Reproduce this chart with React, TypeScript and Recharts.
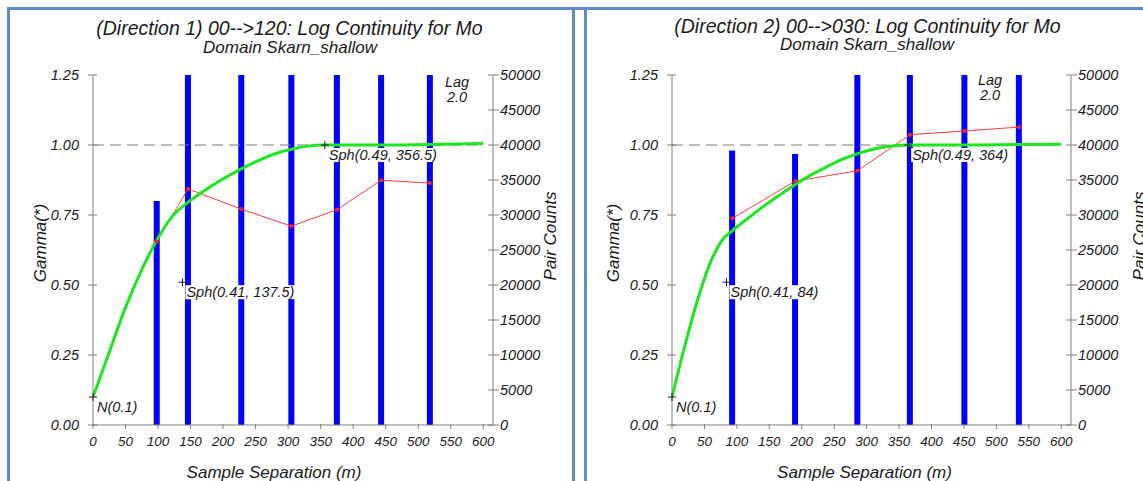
import { ComposedChart, Bar, Line, XAxis, YAxis, ReferenceLine, ReferenceDot } from 'recharts';

// Direction 1 (00-->120)
const LAG_1 = [0, 25, 50, 75, 98, 122, 146, 170, 195, 228, 250, 275, 305, 330, 356.5, 375, 443, 518, 600];
const PAIRS_1 = [null, null, null, null, 32000, null, 56000, null, null, 61000, null, null, 60000, null, null, 57000, 55000, 53000, null];
const GAMMA_1 = [null, null, null, null, 0.655, null, 0.843, null, null, 0.771, null, null, 0.71, null, null, 0.769, 0.874, 0.864, null];
const MODEL_1 = [0.1, 0.26, 0.42, 0.555, 0.66, 0.745, 0.795, 0.835, 0.872, 0.915, 0.94, 0.965, 0.985, 0.996, 1.0, 1.0, 1.0, 1.002, 1.005];
const MARK_H_1 = [0, 137.5, 356.5];
const MARK_G_1 = [0.1, 0.51, 1.0];
const MARK_TXT_1 = ['N(0.1)', 'Sph(0.41, 137.5)', 'Sph(0.49, 356.5)'];

// Direction 2 (00-->030)
const LAG_2 = [0, 20, 40, 60, 80, 93, 115, 140, 165, 190, 215, 240, 265, 286, 310, 335, 367, 451, 535, 600];
const PAIRS_2 = [null, null, null, null, null, 39200, null, null, null, 38700, null, null, null, 58000, null, null, 60000, 56000, 59000, null];
const GAMMA_2 = [null, null, null, null, null, 0.738, null, null, null, 0.871, null, null, null, 0.908, null, null, 1.037, 1.05, 1.064, null];
const MODEL_2 = [0.1, 0.284, 0.451, 0.585, 0.668, 0.694, 0.7345, 0.779, 0.82, 0.859, 0.894, 0.924, 0.951, 0.969, 0.985, 0.9955, 1.0, 1.0, 1.002, 1.003];
const MARK_H_2 = [0, 84, 364];
const MARK_G_2 = [0.1, 0.51, 1.0];
const MARK_TXT_2 = ['N(0.1)', 'Sph(0.41, 84)', 'Sph(0.49, 364)'];

const X_TICKS = [0, 50, 100, 150, 200, 250, 300, 350, 400, 450, 500, 550, 600];
const G_TICKS = [0, 0.25, 0.5, 0.75, 1, 1.25];
const P_TICKS = [0, 5000, 10000, 15000, 20000, 25000, 30000, 35000, 40000, 45000, 50000];

const FONT = '"Liberation Sans", Arial, sans-serif';
const AXIS = '#808080';
const INK = '#1a1a1a';

function XTick(props: any) {
  const { x, y, payload } = props;
  return (
    <g>
      <line x1={x} x2={x} y1={y - 1} y2={y + 4} stroke={AXIS} />
      <text x={x} y={y + 21} textAnchor="middle" fontSize={13.5} fontStyle="italic" fill={INK} fontFamily={FONT}>{payload.value}</text>
    </g>
  );
}

function LeftTick(props: any) {
  const { x, y, payload } = props;
  return (
    <g>
      <line x1={x - 5} x2={x + 4} y1={y} y2={y} stroke={AXIS} />
      <text x={x - 14} y={y + 5} textAnchor="end" fontSize={14.5} fontStyle="italic" fill={INK} fontFamily={FONT}>{Number(payload.value).toFixed(2)}</text>
    </g>
  );
}

function RightTick(props: any) {
  const { x, y, payload } = props;
  return (
    <g>
      <line x1={x - 5} x2={x + 6} y1={y} y2={y} stroke={AXIS} />
      <text x={x + 7} y={y + 5} textAnchor="start" fontSize={14.5} fontStyle="italic" fill={INK} fontFamily={FONT}>{payload.value}</text>
    </g>
  );
}

function markShape(text: string) {
  return (p: any) => {
    const w = text.length * 6.9 + 3;
    return (
      <g>
        <rect x={p.cx + 3} y={p.cy + 3} width={w} height={14} fill="#fff" />
        <line x1={p.cx - 4} x2={p.cx + 4} y1={p.cy} y2={p.cy} stroke={INK} />
        <line x1={p.cx} x2={p.cx} y1={p.cy - 4} y2={p.cy + 4} stroke={INK} />
        <text x={p.cx + 4} y={p.cy + 15} fontSize={14.5} fontStyle="italic" fill={INK} fontFamily={FONT}>{text}</text>
      </g>
    );
  };
}

function Txt({ x, y, size, rot, children }: { x: number; y: number; size: number; rot?: boolean; children: any }) {
  return (
    <div style={{
      position: 'absolute', left: x - 250, top: y - size, width: 500, height: size * 2,
      lineHeight: size * 2 + 'px', textAlign: 'center', fontSize: size, fontStyle: 'italic',
      fontFamily: FONT, color: INK, whiteSpace: 'nowrap',
      transform: rot ? 'rotate(-90deg)' : undefined,
    }}>{children}</div>
  );
}

interface PanelProps {
  left: number; width: number; mLeft: number; mRight: number;
  lag: number[]; pairs: (number | null)[]; gamma: (number | null)[]; model: number[];
  markH: number[]; markG: number[]; markTxt: string[];
}

function Panel(p: PanelProps) {
  const data = p.lag.map((h, i) => ({ h, pairs: p.pairs[i], gamma: p.gamma[i], model: p.model[i] }));
  return (
    <div style={{ position: 'absolute', left: p.left, top: 0 }}>
      <ComposedChart width={p.width} height={481} data={data}
        margin={{ top: 75, right: p.mRight, bottom: 26, left: p.mLeft }}>
        <XAxis dataKey="h" type="number" domain={[0, 615]} ticks={X_TICKS} interval={0}
          height={30} tickSize={0} tickMargin={0} tickLine={false} tick={XTick}
          axisLine={{ stroke: AXIS }} allowDataOverflow />
        <YAxis yAxisId="g" orientation="left" domain={[0, 1.25]} ticks={G_TICKS} interval={0}
          width={60} tickSize={0} tickMargin={0} tickLine={false} tick={LeftTick}
          axisLine={{ stroke: AXIS }} allowDataOverflow />
        <YAxis yAxisId="p" orientation="right" domain={[0, 50000]} ticks={P_TICKS} interval={0}
          width={60} tickSize={0} tickMargin={0} tickLine={false} tick={RightTick}
          axisLine={{ stroke: AXIS }} allowDataOverflow />
        <ReferenceLine yAxisId="g" segment={[{ x: 0, y: 1 }, { x: 600, y: 1 }]}
          stroke="#7a7a7a" strokeDasharray="11 6" />
        <Bar yAxisId="p" dataKey="pairs" fill="#0000ff" barSize={6} isAnimationActive={false} />
        <Line yAxisId="g" dataKey="gamma" stroke="#ff3b3b" strokeWidth={1} connectNulls
          dot={{ r: 2, fill: '#ff2020', stroke: 'none' }} isAnimationActive={false} />
        <Line yAxisId="g" dataKey="model" type="monotone" stroke="#1ee61e" strokeWidth={3} connectNulls
          dot={false} isAnimationActive={false} />
        {p.markH.map((h, i) => (
          <ReferenceDot key={i} yAxisId="g" x={h} y={p.markG[i]} shape={markShape(p.markTxt[i])} />
        ))}
      </ComposedChart>
    </div>
  );
}

export default function App() {
  const border = '#5f8bc8';
  return (
    <div style={{ position: 'absolute', left: 0, top: 0, width: 1143, height: 481, overflow: 'hidden', background: '#fff' }}>
      <div style={{ position: 'absolute', left: 7, top: 7, width: 1136, height: 2.5, background: border }} />
      <div style={{ position: 'absolute', left: 7, top: 7, width: 2.5, height: 474, background: border }} />
      <div style={{ position: 'absolute', left: 572, top: 7, width: 2.5, height: 474, background: border }} />
      <div style={{ position: 'absolute', left: 584, top: 7, width: 2.5, height: 474, background: border }} />

      <Panel left={0} width={573} mLeft={33} mRight={20}
        lag={LAG_1} pairs={PAIRS_1} gamma={GAMMA_1} model={MODEL_1}
        markH={MARK_H_1} markG={MARK_G_1} markTxt={MARK_TXT_1} />
      <Panel left={580} width={563} mLeft={32} mRight={12}
        lag={LAG_2} pairs={PAIRS_2} gamma={GAMMA_2} model={MODEL_2}
        markH={MARK_H_2} markG={MARK_G_2} markTxt={MARK_TXT_2} />

      <Txt x={289.5} y={28.5} size={19.5}>(Direction 1) 00--&gt;120: Log Continuity for Mo</Txt>
      <Txt x={290} y={48} size={17}>Domain Skarn_shallow</Txt>
      <Txt x={457} y={82} size={14.5}>Lag</Txt>
      <Txt x={457} y={97} size={14.5}>2.0</Txt>
      <Txt x={41} y={243} size={17} rot>Gamma(*)</Txt>
      <Txt x={550.5} y={236} size={17} rot>Pair Counts</Txt>
      <Txt x={274} y={473} size={17}>Sample Separation (m)</Txt>

      <Txt x={867.5} y={26} size={19.5}>(Direction 2) 00--&gt;030: Log Continuity for Mo</Txt>
      <Txt x={867} y={45} size={17}>Domain Skarn_shallow</Txt>
      <Txt x={990} y={80} size={14.5}>Lag</Txt>
      <Txt x={990} y={95} size={14.5}>2.0</Txt>
      <Txt x={614} y={243} size={17} rot>Gamma(*)</Txt>
      <Txt x={1140} y={236} size={17} rot>Pair Counts</Txt>
      <Txt x={864.5} y={473} size={17}>Sample Separation (m)</Txt>
    </div>
  );
}
